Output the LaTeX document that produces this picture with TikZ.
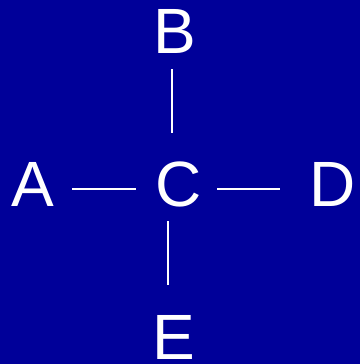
\documentclass[tikz,border=0pt]{standalone}
\usepackage{fontspec}
\setmainfont{Liberation Sans}
\definecolor{bgblue}{RGB}{0,0,153}
\begin{document}
\begin{tikzpicture}[x=1pt,y=-1pt,
  lbl/.style={text=white, font=\fontsize{64}{64}\selectfont, inner sep=0pt, text height=46pt, text depth=0pt, anchor=center},
  link/.style={draw=white, line width=1.6pt}]
\fill[bgblue] (0,0) rectangle (360,364);
\useasboundingbox (0,0) rectangle (360,364);
\node[lbl] (A) at (33,183.5) {A};
\node[lbl] (B) at (175,30.5) {B};
\node[lbl] (C) at (179,183.5) {C};
\node[lbl] (D) at (332.5,183.5) {D};
\node[lbl] (E) at (174,336) {E};
\draw[link] ([xshift=39pt,yshift=-5.5pt]A.center) -- ([xshift=-43pt,yshift=-5.5pt]C.center);
\draw[link] ([xshift=38pt,yshift=-5.5pt]C.center) -- ([xshift=-52.5pt,yshift=-5.5pt]D.center);
\draw[link] ([xshift=-3pt,yshift=-38.5pt]B.center) -- ([xshift=-7pt,yshift=50.5pt]C.center);
\draw[link] ([xshift=-11pt,yshift=-37.5pt]C.center) -- ([xshift=-6pt,yshift=51pt]E.center);
\end{tikzpicture}
\end{document}
